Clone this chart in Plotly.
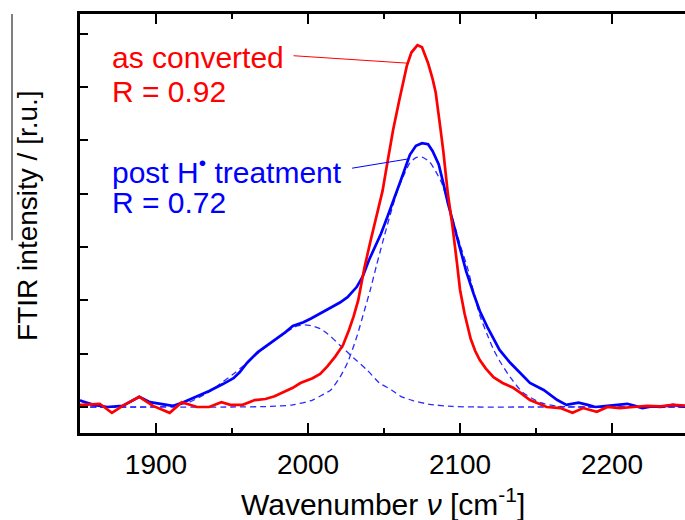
import plotly.graph_objects as go

# ---- data ----
red_x = [1850, 1852, 1863, 1871, 1878, 1889, 1898, 1909, 1917, 1927, 1935, 1943, 1949, 1957, 1965,
         1972, 1978, 1984, 1990, 1995, 2003, 2008, 2013, 2018, 2023, 2027, 2030, 2033, 2037, 2041,
         2045, 2049, 2052, 2056, 2060, 2065, 2068, 2072, 2075, 2079, 2082, 2084, 2087, 2089, 2092,
         2095, 2098, 2100, 2103, 2107, 2110, 2113, 2117, 2122, 2128, 2135, 2140, 2146, 2152, 2157,
         2166, 2174, 2181, 2190, 2197, 2205, 2214, 2223, 2232, 2240, 2250]
red_y = [0.04, 0.04, 0.06, -0.11, 0.02, 0.19, 0.02, -0.11, 0.09, 0.00, 0.00, 0.09, 0.04, 0.04, 0.13,
         0.15, 0.20, 0.28, 0.36, 0.45, 0.54, 0.62, 0.77, 0.95, 1.16, 1.45, 1.70, 2.00, 2.60, 3.10,
         3.55, 4.05, 4.55, 5.20, 5.75, 6.40, 6.65, 6.79, 6.75, 6.45, 6.15, 5.90, 5.25, 4.80, 4.00,
         3.40, 2.70, 2.20, 1.75, 1.28, 1.05, 0.88, 0.72, 0.56, 0.45, 0.36, 0.26, 0.13, 0.06, 0.00,
         -0.02, -0.11, -0.02, -0.09, 0.00, -0.02, 0.00, 0.02, 0.01, 0.04, 0.02]

blue_x = [1850, 1851, 1859, 1868, 1878, 1889, 1896, 1905, 1911, 1918, 1926, 1935, 1944, 1951, 1955,
          1960, 1967, 1973, 1980, 1985, 1990, 1997, 2002, 2008, 2016, 2021, 2026, 2032, 2036, 2040,
          2044, 2048, 2052, 2056, 2061, 2067, 2071, 2075, 2079, 2082, 2086, 2089, 2092, 2096, 2100,
          2104, 2109, 2113, 2118, 2122, 2126, 2133, 2140, 2146, 2155, 2160, 2164, 2170, 2174, 2178,
          2184, 2189, 2197, 2203, 2210, 2215, 2220, 2226, 2232, 2240, 2250]
blue_y = [0.13, 0.11, 0.04, 0.00, 0.02, 0.19, 0.09, 0.04, 0.02, 0.09, 0.19, 0.30, 0.43, 0.54, 0.65,
          0.83, 1.03, 1.15, 1.29, 1.40, 1.52, 1.59, 1.66, 1.76, 1.88, 1.96, 2.06, 2.25, 2.45, 2.75,
          3.00, 3.25, 3.55, 3.85, 4.25, 4.73, 4.90, 4.95, 4.93, 4.80, 4.55, 4.20, 3.83, 3.40, 3.00,
          2.55, 2.12, 1.80, 1.50, 1.28, 1.07, 0.83, 0.62, 0.45, 0.32, 0.22, 0.13, 0.04, 0.06, 0.08,
          0.04, 0.00, 0.02, 0.04, 0.06, 0.02, -0.02, 0.01, 0.00, 0.04, 0.00]

fit1_x = [1850, 1870, 1890, 1905, 1915, 1922, 1929, 1936, 1942, 1950, 1957, 1962, 1970, 1980, 1987,
          1993, 1998, 2003, 2008, 2013, 2021, 2030, 2039, 2047, 2055, 2061, 2069, 2080, 2095, 2110,
          2150, 2200, 2250]
fit1_y = [0.00, 0.00, 0.00, 0.01, 0.04, 0.09, 0.19, 0.30, 0.43, 0.60, 0.76, 0.88, 1.08, 1.29, 1.43,
          1.52, 1.54, 1.52, 1.47, 1.37, 1.16, 0.92, 0.69, 0.45, 0.32, 0.20, 0.12, 0.05, 0.01, 0.00,
          0.00, 0.00, 0.00]

fit2_x = [1850, 1950, 1975, 1990, 2003, 2009, 2015, 2021, 2026, 2032, 2037, 2041, 2045, 2049, 2054,
          2059, 2063, 2067, 2071, 2075, 2080, 2084, 2088, 2092, 2096, 2100, 2105, 2109, 2113, 2118,
          2122, 2127, 2133, 2141, 2153, 2166, 2200, 2250]
fit2_y = [0.00, 0.00, 0.01, 0.04, 0.13, 0.22, 0.32, 0.56, 0.83, 1.31, 1.80, 2.20, 2.65, 3.08, 3.60,
          4.07, 4.35, 4.58, 4.68, 4.69, 4.60, 4.42, 4.20, 3.85, 3.45, 3.05, 2.60, 2.15, 1.72, 1.35,
          1.08, 0.82, 0.56, 0.28, 0.08, 0.01, 0.00, 0.00]

x_ticks = [1900, 2000, 2100, 2200]
y_ticks = [0, 1, 2, 3, 4, 5, 6, 7]

# label anchors (data coordinates)
lab_red = dict(x=1870, y1=6.55, y2=5.92)
lab_blue = dict(x=1870, y1=4.45, y2=3.83)
lead_red = (1990.5, 6.59, 2065.8, 6.45)
lead_blue = (2029.0, 4.48, 2065.1, 4.65)

RED = "#ff0000"
BLUE = "#0000ff"
FONT = "Arial, 'Liberation Sans', sans-serif"

fig = go.Figure()
fig.add_trace(go.Scatter(x=fit1_x, y=fit1_y, mode="lines", line_shape="spline",
                         line=dict(color="#2a2aff", width=1.3, dash="6px,4px", smoothing=0.6)))
fig.add_trace(go.Scatter(x=fit2_x, y=fit2_y, mode="lines", line_shape="spline",
                         line=dict(color="#2a2aff", width=1.3, dash="6px,4px", smoothing=0.6)))
fig.add_trace(go.Scatter(x=blue_x, y=blue_y, mode="lines",
                         line=dict(color=BLUE, width=2.7)))
fig.add_trace(go.Scatter(x=red_x, y=red_y, mode="lines",
                         line=dict(color=RED, width=2.7)))

fig.update_layout(
    width=685, height=520,
    margin=dict(l=80, r=0, t=14, b=87),
    paper_bgcolor="white", plot_bgcolor="white",
    showlegend=False,
    font=dict(family=FONT, size=28, color="black"),
    xaxis=dict(range=[1850, 2248], tickvals=x_ticks, ticks="inside", ticklen=10, tickwidth=2,
               tickcolor="black", showline=True, linecolor="black", linewidth=2.8,
               mirror="ticks", showgrid=False, zeroline=False,
               tickfont=dict(size=28), ticklabelstandoff=4,
               minor=dict(dtick=50, tick0=1850, ticks="inside", ticklen=5, tickwidth=2,
                          tickcolor="black", showgrid=False)),
    yaxis=dict(range=[-0.488, 7.373], tickvals=y_ticks, ticks="inside", ticklen=8, tickwidth=2,
               tickcolor="black", showline=True, linecolor="black", linewidth=2.8,
               showticklabels=False, showgrid=False, zeroline=False),
    yaxis2=dict(range=[-0.488, 7.373], overlaying="y", side="right", anchor="x",
                tickvals=y_ticks, ticks="inside", ticklen=8, tickwidth=2, tickcolor="black",
                showline=False, showticklabels=False, showgrid=False, zeroline=False),
)

ann = [
    dict(x=lab_red["x"], y=lab_red["y1"], text="as converted", font=dict(color=RED, size=30)),
    dict(x=lab_red["x"], y=lab_red["y2"], text="R = 0.92", font=dict(color=RED, size=30)),
    dict(x=lab_blue["x"], y=lab_blue["y1"], text="post H<sup>•</sup> treatment",
         font=dict(color=BLUE, size=30)),
    dict(x=lab_blue["x"], y=lab_blue["y2"], text="R = 0.72", font=dict(color=BLUE, size=30)),
]
for a in ann:
    fig.add_annotation(xref="x", yref="y", xanchor="left", yanchor="middle",
                       showarrow=False, **a)

fig.add_annotation(xref="paper", yref="paper", x=-0.088, y=0.52, xanchor="center",
                   yanchor="middle", textangle=-90, showarrow=False,
                   text="FTIR intensity / [r.u.]", font=dict(size=28))
fig.add_annotation(xref="paper", yref="paper", x=0.5, y=-0.165, xanchor="center",
                   yanchor="middle", showarrow=False,
                   text="Wavenumber <i>ν</i> [cm<sup>-1</sup>]", font=dict(size=30))

fig.add_shape(type="line", xref="x", yref="y", x0=lead_red[0], y0=lead_red[1],
              x1=lead_red[2], y1=lead_red[3], line=dict(color=RED, width=1))
fig.add_shape(type="line", xref="x", yref="y", x0=lead_blue[0], y0=lead_blue[1],
              x1=lead_blue[2], y1=lead_blue[3], line=dict(color=BLUE, width=1))
# overline artefact next to the y title
fig.add_shape(type="line", xref="paper", yref="paper", x0=-0.1124, x1=-0.1124, y0=1.0, y1=0.46,
              line=dict(color="#555555", width=1.5))

fig.write_html("out.html", config={"displayModeBar": False},
               post_script="document.body.style.margin='0';document.body.style.padding='0';")
